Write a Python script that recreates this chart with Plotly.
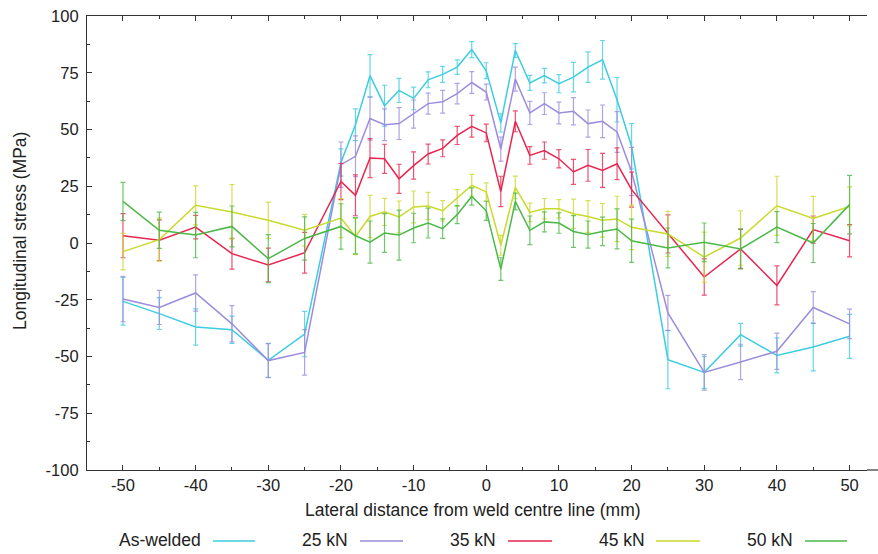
import plotly.graph_objects as go

# ---- data ----
distance_mm = [-50, -45, -40, -35, -30, -25, -20, -18, -16, -14, -12, -10, -8, -6, -4, -2,
               0, 2, 4, 6, 8, 10, 12, 14, 16, 18, 20, 25, 30, 35, 40, 45, 50]

as_welded = [-25.7, -31.1, -37, -38.2, -51.7, -40.1, 35.5, 52.1, 73.7, 60.5, 67.2, 63.7, 71.9, 74.3, 77.5, 85.2,
             75.9, 52.9, 84.8, 70.5, 73.7, 70.2, 73.1, 77.5, 80.7, 63.1, 42.6, -51.4, -57, -40.4, -49.5, -45.8, -41.1]
as_welded_err = [10.5, 7, 8, 6, 7.5, 10, 6, 7, 9.3, 9, 5.3, 5, 3.5, 3.5, 3.2, 3.5,
                 3.5, 4, 3, 3.3, 3.2, 4, 6.5, 6.7, 8.5, 9.8, 10, 12.8, 7, 5, 7.7, 10.5, 9.7]

kn25 = [-24.7, -28.4, -22, -35.6, -51.8, -48.2, 34.5, 38.2, 54.8, 52.1, 52.6, 56.8, 61.4, 62.2, 65.8, 70.7,
        66.5, 41.4, 72.2, 57.3, 61.4, 57.3, 58, 52.6, 53.6, 48.9, 31.5, -30.8, -57, -52.4, -47.7, -28.4, -35.6]
kn25_err = [10, 7.5, 8, 8, 7.5, 10, 10, 9, 9.5, 7, 7, 6.2, 4.6, 5, 4.5, 4.8,
            3.5, 5.3, 5.3, 5.1, 4.8, 4.8, 6, 6, 7.2, 9, 10.6, 7.7, 7.8, 7.8, 8, 7, 6.5]

kn35 = [3.2, 1.2, 7, -4.7, -9.7, -4.3, 27.1, 21, 37.4, 37.1, 28.3, 34.1, 39.2, 41.7, 47.4, 51.4,
        48.5, 22.7, 53.6, 38.6, 40.7, 37.1, 31.3, 34.2, 32, 34.9, 23.5, 4, -15, -2.6, -18.7, 5.9, 1]
kn35_err = [9.7, 9, 5.2, 6.8, 7.4, 9, 8, 9, 8.6, 6.4, 6.4, 6, 4.4, 3.7, 4, 4.8,
            3.9, 6.7, 4.6, 3.9, 3.8, 4, 5.5, 7, 7.5, 7, 7.7, 8.4, 8, 8.6, 8.6, 6, 7.1]

kn45 = [-3.8, 1.5, 16.6, 13.7, 10, 5.6, 11, 2.9, 11.7, 13.7, 11.5, 15.9, 16.3, 14.2, 19.8, 25.4,
        22.5, -1, 24.5, 13.5, 15.1, 15.1, 12.9, 11.7, 10, 10.6, 6.9, 4, -6.2, 2.2, 16.4, 10.8, 16.1]
kn45_err = [8, 9.5, 8.6, 12, 8, 7, 8.6, 8, 9.3, 6, 7, 7, 6, 4.5, 3.7, 4.8,
            4, 4.4, 5, 4.1, 4.5, 4, 6.4, 7, 7.4, 10, 9.8, 9.9, 11, 12, 13, 9.7, 8.6]

kn50 = [18.3, 5.6, 3.5, 7.3, -6.9, 2, 7.3, 3.2, 0.4, 4.4, 3.5, 6.6, 8.8, 6.3, 12.5, 20.5,
        14.2, -11.5, 18.3, 5.6, 9.3, 8.8, 5.1, 3.7, 5.1, 6.2, 1, -2.2, 0.3, -2.6, 7, 0, 16.9]
kn50_err = [8.4, 8, 10, 9, 10.6, 9.5, 10, 8, 9.3, 8.5, 11, 6.5, 6.6, 4.3, 4, 3.8,
            4.2, 5, 3.7, 6.3, 4.4, 4.5, 7, 6, 6.3, 8.8, 9.5, 8.8, 8.5, 8.8, 6.8, 8.6, 12.9]

series_names = ["As-welded", "25 kN", "35 kN", "45 kN", "50 kN"]
series_values = [as_welded, kn25, kn35, kn45, kn50]
series_errors = [as_welded_err, kn25_err, kn35_err, kn45_err, kn50_err]

x_tick_vals = [-50, -40, -30, -20, -10, 0, 10, 20, 30, 40, 50]
x_tick_text = ["-50", "-40", "-30", "-20", "-10", "0", "10", "20", "30", "40", "50"]
y_tick_vals = [-100, -75, -50, -25, 0, 25, 50, 75, 100]
y_tick_text = ["-100", "-75", "-50", "-25", "0", "25", "50", "75", "100"]

# ---- styling ----
line_colors = ["#3ccde0", "#9c8cdc", "#e8254e", "#c9da2a", "#4cb848"]
err_colors = ["rgba(60,205,224,0.8)", "rgba(156,140,220,0.8)", "rgba(232,37,78,0.8)",
              "rgba(201,218,42,0.8)", "rgba(76,184,72,0.8)"]
legend_text_right = [203, 350, 498, 647, 795]   # pixel positions of legend entries
legend_line_span = [(213, 255), (360, 403), (508, 552), (656, 700), (805, 847)]

W, H = 878, 554
ML, MR, MT, MB = 87, 11, 16, 84
PW, PH = W - ML - MR, H - MT - MB

fig = go.Figure()
for name, vals, errs, lc, ec in zip(series_names, series_values, series_errors, line_colors, err_colors):
    fig.add_trace(go.Scatter(
        x=distance_mm, y=vals, name=name, mode="lines",
        line=dict(color=lc, width=1.5),
        error_y=dict(type="data", array=errs, visible=True, color=ec, thickness=1.2, width=2.5),
        showlegend=False, hoverinfo="skip",
    ))

font_family = "Liberation Sans, Arial, Helvetica, sans-serif"
text_color = "#222222"

annotations = []
shapes = []
for name, lc, tr, (l0, l1) in zip(series_names, line_colors, legend_text_right, legend_line_span):
    annotations.append(dict(
        x=(tr - ML) / PW, y=(H - MB - 540) / PH, xref="paper", yref="paper",
        text=name, showarrow=False, xanchor="right", yanchor="middle",
        font=dict(family=font_family, size=17.5, color=text_color),
    ))
    shapes.append(dict(
        type="line", xref="paper", yref="paper",
        x0=(l0 - ML) / PW, x1=(l1 - ML) / PW,
        y0=(H - MB - 541) / PH, y1=(H - MB - 541) / PH,
        line=dict(color=lc, width=2), opacity=0.75,
    ))

# x axis title
annotations.append(dict(
    x=(473 - ML) / PW, y=(H - MB - 510) / PH, xref="paper", yref="paper",
    text="Lateral distance from weld centre line (mm)", showarrow=False,
    xanchor="center", yanchor="middle",
    font=dict(family=font_family, size=17.5, color=text_color),
))
# y axis title
annotations.append(dict(
    x=(20 - ML) / PW, y=(H - MB - 231) / PH, xref="paper", yref="paper",
    text="Longitudinal stress (MPa)", showarrow=False, textangle=-90,
    xanchor="center", yanchor="middle",
    font=dict(family=font_family, size=17.5, color=text_color),
))
# bottom axis line extension to the right edge
shapes.append(dict(type="line", xref="paper", yref="paper", x0=1, x1=1 + MR / PW, y0=0, y1=0,
                   line=dict(color="#333333", width=1.2)))

fig.update_layout(
    width=W, height=H,
    margin=dict(l=ML, r=MR, t=MT, b=MB, autoexpand=False),
    paper_bgcolor="white", plot_bgcolor="white",
    font=dict(family=font_family, size=16, color=text_color),
    annotations=annotations, shapes=shapes,
    showlegend=False,
)
fig.update_xaxes(
    range=[-54.95, 52.4], tickvals=x_tick_vals, ticktext=x_tick_text,
    ticks="inside", ticklen=5, tickwidth=1, automargin=False,
    tickcolor="#333333", showline=True, linecolor="#333333", linewidth=1.2, mirror="ticks",
    showgrid=False, zeroline=False, tickfont=dict(size=16.5, color=text_color),
    ticklabelstandoff=0,
    minor=dict(dtick=5, tick0=0, ticks="inside", ticklen=3, tickcolor="#333333"),
)
fig.update_yaxes(
    range=[-100, 100], tickvals=y_tick_vals, ticktext=y_tick_text,
    ticks="inside", ticklen=5, tickwidth=1, automargin=False,
    tickcolor="#333333", showline=True, linecolor="#333333", linewidth=1.2, mirror=False,
    showgrid=False, zeroline=False, tickfont=dict(size=16.5, color=text_color),
    ticklabelstandoff=4,
    minor=dict(dtick=12.5, tick0=0, ticks="inside", ticklen=3, tickcolor="#333333"),
)

fig.write_html(
    "out.html",
    config={"displayModeBar": False},
    post_script="document.body.style.margin='0';document.body.style.overflow='hidden';",
)
